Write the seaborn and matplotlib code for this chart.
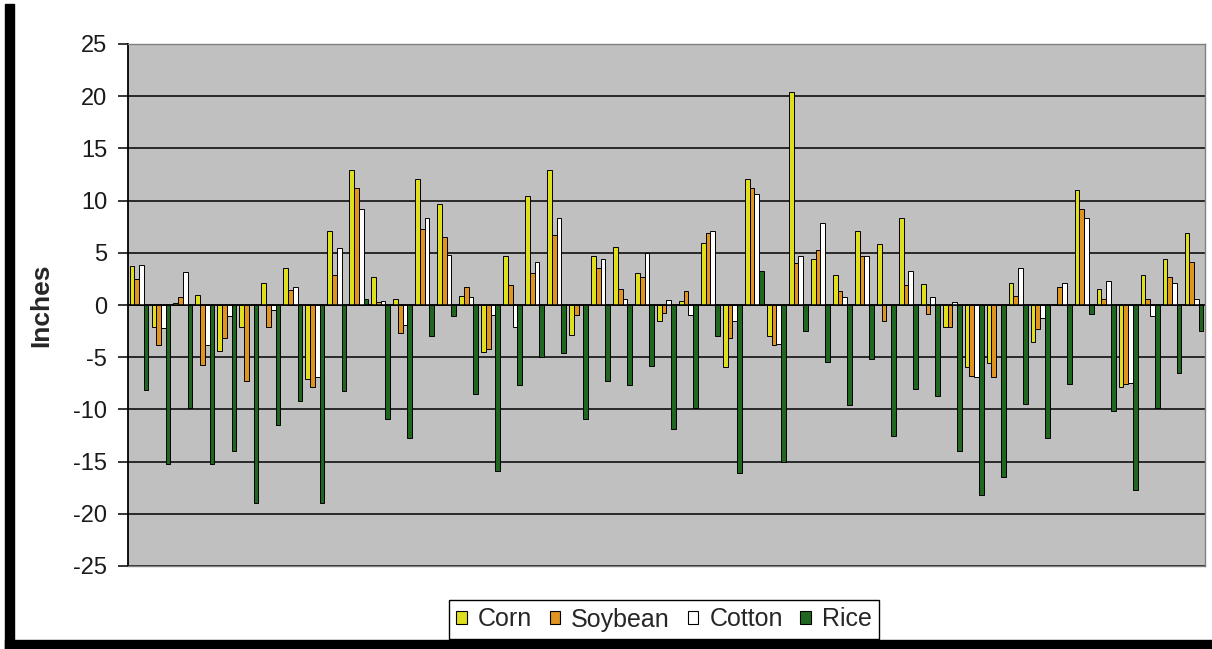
import numpy as np
import pandas as pd
import seaborn as sns
import matplotlib
matplotlib.use("Agg")
import matplotlib.pyplot as plt
from matplotlib.patches import Rectangle

# Departure values (inches) per crop for each of the 49 sites
corn = [3.7, -2.1, 0.2, 1.0, -4.4, -2.1, 2.1, 3.5, -7.1, 7.1,
        12.9, 2.7, 0.6, 12.1, 9.7, 0.9, -4.5, 4.7, 10.4, 12.9,
        -2.9, 4.7, 5.6, 3.1, -1.5, 0.4, 5.9, -5.9, 12.1, -3.0,
        20.4, 4.4, 2.9, 7.1, 5.8, 8.3, 2.0, -2.1, -5.9, -5.6,
        2.1, -3.5, 0.0, 11.0, 1.5, -7.9, 2.9, 4.4, 6.9]
soybean = [2.5, -3.8, 0.8, -5.7, -3.2, -7.3, -2.1, 1.4, -7.9, 2.9,
           11.2, 0.3, -2.7, 7.3, 6.5, 1.7, -4.2, 1.9, 3.1, 6.7,
           -1.0, 3.5, 1.5, 2.7, -0.8, 1.3, 6.9, -3.2, 11.2, -3.8,
           4.0, 5.3, 1.3, 4.7, -1.5, 1.9, -0.9, -2.1, -6.8, -6.9,
           0.9, -2.3, 1.7, 9.2, 0.6, -7.6, 0.6, 2.7, 4.1]
cotton = [3.8, -2.2, 3.2, -3.8, -1.1, 0.0, -0.5, 1.7, -6.9, 5.5,
          9.2, 0.4, -1.9, 8.3, 4.8, 0.8, -1.0, -2.1, 4.1, 8.3,
          0.0, 4.4, 0.6, 5.0, 0.5, -1.0, 7.1, -1.5, 10.6, -3.7,
          4.7, 7.9, 0.8, 4.7, 0.0, 3.3, 0.8, 0.3, -6.9, 0.0,
          3.5, -1.2, 2.1, 8.3, 2.3, -7.5, -1.1, 2.1, 0.6]
rice = [-8.1, -15.2, -9.9, -15.2, -14.0, -19.0, -11.5, -9.2, -19.0, -8.2,
        0.6, -10.9, -12.7, -3.0, -1.1, -8.5, -15.9, -7.7, -5.0, -4.6,
        -10.9, -7.3, -7.7, -5.8, -11.9, -9.9, -3.0, -16.1, 3.3, -15.0,
        -2.5, -5.5, -9.6, -5.2, -12.5, -8.0, -8.7, -14.0, -18.2, -16.5,
        -9.5, -12.7, -7.6, -0.9, -10.2, -17.7, -9.9, -6.5, -2.5]

crops = ["Corn", "Soybean", "Cotton", "Rice"]
colors = ["#ffff00", "#ff9900", "#ffffff", "#137313"]
yticks = list(range(-25, 30, 5))

sites = list(range(1, len(corn) + 1))
df = pd.DataFrame({
    "site": np.tile(sites, 4),
    "crop": np.repeat(crops, len(sites)),
    "inches": np.concatenate([corn, soybean, cotton, rice]),
})

sns.set_style("white")
plt.rcParams["font.family"] = ["Liberation Sans", "DejaVu Sans"]
plt.rcParams["axes.unicode_minus"] = False

fig = plt.figure(figsize=(12.12, 6.49), dpi=100)
W, H = 1212, 649
ax = fig.add_axes([128 / W, 1 - 566 / H, (1205 - 128) / W, (566 - 44) / H])
ax.set_facecolor("#c0c0c0")

sns.barplot(data=df, x="site", y="inches", hue="crop", order=sites,
            hue_order=crops, palette=colors, width=0.86, gap=0,
            edgecolor="black", linewidth=0.7, errorbar=None, ax=ax)

ax.set_ylim(-25, 25)
ax.set_yticks(yticks)
ax.set_yticklabels([str(t) for t in yticks], fontsize=17, color="#1a1a1a")
ax.yaxis.grid(True, color="black", linewidth=1.1)
ax.xaxis.grid(False)
ax.set_axisbelow(True)
ax.axhline(0, color="black", linewidth=1.1, zorder=1.5)

ax.set_xticks([])
ax.set_xlabel("")
ax.set_ylabel("Inches", fontsize=19, fontweight="bold")
ax.yaxis.set_label_coords(-0.069, 0.5)

ax.tick_params(axis="y", direction="out", length=7, width=1.1,
               color="black", pad=8, left=True)
for side in ["top", "right", "bottom"]:
    ax.spines[side].set_color("#808080")
    ax.spines[side].set_linewidth(1.0)
ax.spines["left"].set_color("black")
ax.spines["left"].set_linewidth(1.3)

# Legend boxed along the bottom of the chart
handles, labels = ax.get_legend_handles_labels()
if ax.get_legend() is not None:
    ax.get_legend().remove()
leg = fig.legend(handles, labels, loc="lower center",
                 bbox_to_anchor=(664 / W, 1 - 639 / H),
                 bbox_transform=fig.transFigure, ncol=4, fontsize=18,
                 frameon=True, fancybox=False, edgecolor="black",
                 framealpha=1, borderpad=0.3, handlelength=0.42,
                 handleheight=0.42, handletextpad=0.45,
                 columnspacing=0.7, borderaxespad=0)
leg.get_frame().set_linewidth(1.0)
for h in leg.legend_handles:
    h.set_edgecolor("black")
    h.set_linewidth(0.8)

# Heavy frame edges on the left and bottom of the chart area
fig.add_artist(Rectangle((5 / W, 0), 9 / W, 645 / H,
                         transform=fig.transFigure, color="black"))
fig.add_artist(Rectangle((5 / W, 0), (W - 5) / W, 9 / H,
                         transform=fig.transFigure, color="black"))

fig.savefig("out.png", dpi=100, facecolor="white")
